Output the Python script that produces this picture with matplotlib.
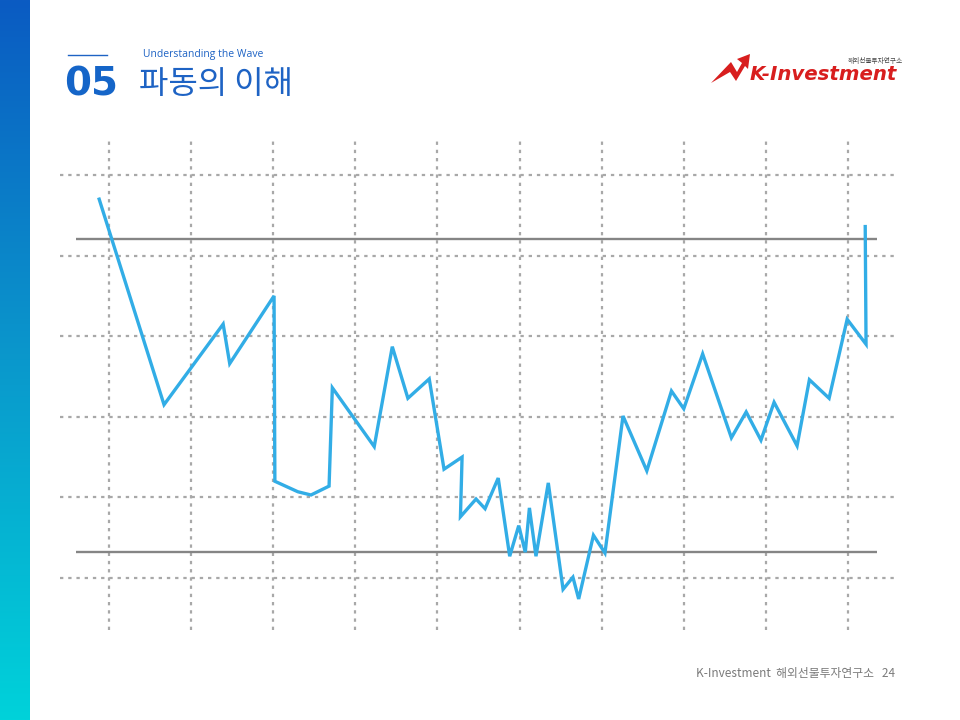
import numpy as np
import matplotlib
matplotlib.use("Agg")
import matplotlib.pyplot as plt
from matplotlib.patches import Polygon
from matplotlib.colors import LinearSegmentedColormap

plt.rcParams['font.family'] = ['Noto Sans CJK KR', 'DejaVu Sans']

# wave points, in grid units (x: vertical grid columns, y: horizontal grid rows)
wave_x = [-0.12, 0.67, 1.39, 1.47, 2.01, 2.02, 2.30, 2.46, 2.68, 2.72,
          3.23, 3.45, 3.64, 3.90, 4.08, 4.30, 4.28, 4.47, 4.58, 4.74,
          4.88, 4.99, 5.07, 5.12, 5.20, 5.35, 5.53, 5.65, 5.72, 5.90,
          6.04, 6.26, 6.55, 6.85, 7.00, 7.23, 7.58, 7.76, 7.94, 8.10,
          8.38, 8.53, 8.77, 8.99, 9.22, 9.21]
wave_y = [4.70, 2.15, 3.15, 2.66, 3.50, 1.20, 1.07, 1.03, 1.14, 2.36,
          1.63, 2.87, 2.23, 2.47, 1.35, 1.50, 0.76, 0.98, 0.86, 1.24,
          0.27, 0.65, 0.32, 0.87, 0.27, 1.18, -0.14, 0.01, -0.26, 0.53,
          0.31, 2.01, 1.33, 2.32, 2.10, 2.78, 1.74, 2.06, 1.71, 2.18,
          1.64, 2.46, 2.23, 3.21, 2.90, 4.36]
resistance = 4.21
support = 0.32
line_x0, line_x1 = -0.40, 9.35

fig = plt.figure(figsize=(9.6, 7.2), dpi=100)
fig.patch.set_facecolor('white')

# left gradient bar
side = fig.add_axes([0, 0, 30 / 960, 1])
grad = np.linspace(0, 1, 256).reshape(-1, 1)
cmap = LinearSegmentedColormap.from_list('side', ['#0b5bc2', '#0a98cc', '#00d2da'])
side.imshow(grad, aspect='auto', cmap=cmap, extent=[0, 1, 1, 0])
side.axis('off')

# chart
ax = fig.add_axes([60 / 960, 1 - 630 / 720, 837 / 960, 490 / 720])
ax.set_xlim(-0.597, 9.597)
ax.set_ylim(-0.645, 5.434)
ax.set_xticks(range(10))
ax.set_yticks(range(6))
ax.grid(True, color='#a8a8a8', linestyle=(0, (1.5, 2.2)), linewidth=1.6)
ax.tick_params(length=0, labelbottom=False, labelleft=False)
for s in ax.spines.values():
    s.set_visible(False)

ax.hlines([resistance, support], line_x0, line_x1, color='#858585', linewidth=1.7)
ax.plot(wave_x, wave_y, color='#32ade6', linewidth=2.4, solid_joinstyle='miter')

# header
fig.add_artist(plt.Line2D([68 / 960, 107 / 960], [1 - 55 / 720] * 2, color='#1e63c4', linewidth=1))
fig.text(143 / 960, 1 - 55 / 720, 'Understanding the Wave', fontsize=7.5, color='#1e63c4',
         va='center', ha='left', family=['Open Sans', 'DejaVu Sans'])
fig.text(64 / 960, 1 - 84 / 720, '05', fontsize=28, color='#1565c8', fontweight='bold',
         va='center', ha='left', family=['DejaVu Sans'])
fig.text(139 / 960, 1 - 84 / 720, '파동의 이해', fontsize=23, color='#1e63c4',
         va='center', ha='left')

# logo (pixel coords, top-left origin)
arrow_px = [(711, 83), (731, 62), (737, 72), (742, 63), (737, 59), (750, 54),
            (748, 69), (745, 66), (736, 81), (730, 72)]
arrow = Polygon([(x, 720 - y) for x, y in arrow_px], closed=True, transform=None,
                facecolor='#d81e1e', edgecolor='none')
fig.add_artist(arrow)
fig.text(750 / 960, 1 - 74 / 720, 'K-Investment', fontsize=14.2, color='#d81e1e',
         fontweight='bold', style='italic', va='center', ha='left',
         family=['DejaVu Sans'])
fig.text(903 / 960, 1 - 61 / 720, '해외선물투자연구소', fontsize=4.8, color='#444444',
         va='center', ha='right')

# footer
fig.text(895 / 960, 1 - 674 / 720, 'K-Investment  해외선물투자연구소   24', fontsize=8.5,
         color='#7a7a7a', va='center', ha='right')

fig.savefig('out.png', dpi=100)
